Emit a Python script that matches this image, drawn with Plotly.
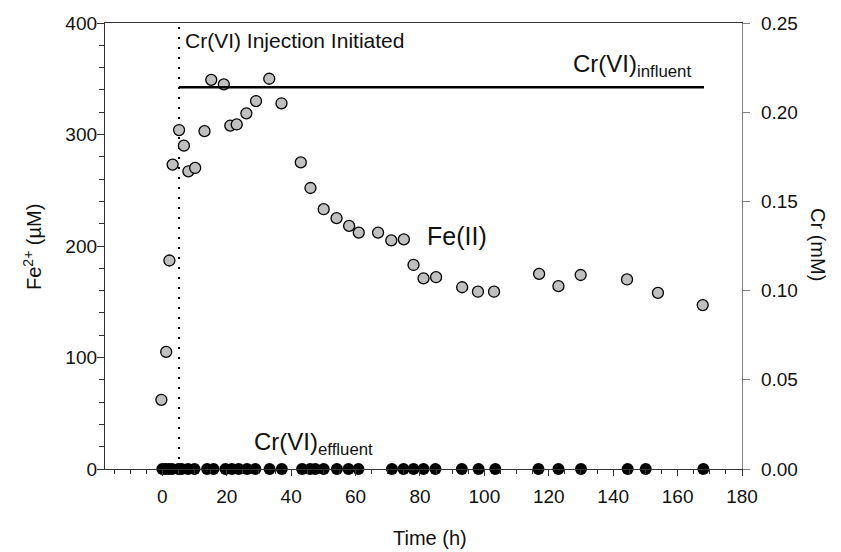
import plotly.graph_objects as go

# Fe(II) concentrations (µM) vs time (h)
fe_time = [-0.3, 1.2, 2.2, 3.2, 5.2, 6.7, 8.1, 10.2, 13.1, 15.2, 19.1, 21.1, 23.1, 26.1, 29.1,
           33.2, 37.0, 43.0, 46.0, 50.1, 54.1, 58.0, 61.0, 67.0, 71.1, 75.0, 78.0, 81.1, 85.0,
           93.1, 98.0, 103.0, 117.0, 123.0, 129.9, 144.3, 153.9, 167.8]
fe_conc = [62, 105, 187, 273, 304, 290, 267, 270, 303, 349, 345, 308, 309, 319, 330,
           350, 328, 275, 252, 233, 225, 218, 212, 212, 205, 206, 183, 171, 172,
           163, 159, 159, 175, 164, 174, 170, 158, 147]

# Cr(VI) effluent (mM)
eff_time = [0, 1, 2, 3, 5, 6, 8, 10, 13.9, 15.9, 19.6, 21.6, 23.7, 26.3, 28.9, 33.3, 37.1,
            43.4, 45.9, 47.5, 50.1, 54.2, 57.8, 60.9, 71.3, 74.9, 78.0, 81.1, 84.8,
            93.0, 98.2, 103.4, 116.8, 123.0, 130.0, 144.5, 150.1, 168.0]
eff_conc = [0.0] * len(eff_time)

# Cr(VI) influent (mM)
inf_time = [5.2, 168.2]
inf_conc = [0.214, 0.214]

# Injection start
inj_time = [5.2, 5.2]
inj_span = [0, 400]

FONT = "Arial, Liberation Sans, sans-serif"

fig = go.Figure()

fig.add_trace(go.Scatter(x=inj_time, y=inj_span, mode="lines", yaxis="y",
                         line=dict(color="black", width=2, dash="2px,8px"),
                         showlegend=False, hoverinfo="skip"))
fig.add_trace(go.Scatter(x=inf_time, y=inf_conc, mode="lines", yaxis="y2",
                         line=dict(color="black", width=2.5), showlegend=False))
fig.add_trace(go.Scatter(x=fe_time, y=fe_conc, mode="markers", yaxis="y",
                         marker=dict(size=11, color="#c0c0c0", line=dict(color="black", width=1.3)),
                         showlegend=False, cliponaxis=False))
fig.add_trace(go.Scatter(x=eff_time, y=eff_conc, mode="markers", yaxis="y2",
                         marker=dict(size=12, color="black", line=dict(color="black", width=0)),
                         showlegend=False, cliponaxis=False))

fig.update_layout(
    width=841, height=552,
    margin=dict(l=105, r=99, t=23, b=83),
    paper_bgcolor="white", plot_bgcolor="white",
    font=dict(family=FONT, size=19, color="#111"),
    xaxis=dict(range=[-17.8, 180], tickmode="array", tickvals=list(range(0, 181, 20)),
               showgrid=False, zeroline=False, showline=True, linecolor="#333", linewidth=1.3,
               mirror=True, ticks="outside", ticklen=6, tickcolor="#333", tickwidth=1.3,
               ticklabelstandoff=4,
               minor=dict(tickmode="array", tickvals=[v for v in range(-15, 180, 5) if v % 20 != 0],
                          ticks="outside", ticklen=4, tickcolor="#333", tickwidth=1.2)),
    yaxis=dict(range=[0, 400], tickmode="array", tickvals=[0, 100, 200, 300, 400],
               showgrid=False, zeroline=False, showline=True, linecolor="#333", linewidth=1.3,
               ticks="outside", ticklen=7, tickcolor="#333", tickwidth=1.3,
               ticklabelstandoff=-4,
               minor=dict(tickmode="array", tickvals=[v for v in range(20, 400, 20) if v % 100 != 0],
                          ticks="outside", ticklen=5, tickcolor="#333", tickwidth=1.2)),
    yaxis2=dict(range=[0, 0.25], overlaying="y", side="right",
                tickmode="array", tickvals=[0, 0.05, 0.10, 0.15, 0.20, 0.25],
                ticktext=["0.00", "0.05", "0.10", "0.15", "0.20", "0.25"],
                showgrid=False, zeroline=False, showline=True, linecolor="#808080", linewidth=1.3,
                ticks="outside", ticklen=7, tickcolor="#808080", tickwidth=1.3,
                ticklabelstandoff=7),
)

ann = [
    dict(text="Time (h)", x=430, y=538, size=20, xanchor="center", angle=0),
    dict(text="Fe<sup>2+</sup> (µM)", x=32, y=247, size=20, xanchor="center", angle=-90),
    dict(text="Cr (mM)", x=818, y=245, size=20, xanchor="center", angle=90),
    dict(text="Cr(VI) Injection Initiated", x=183, y=40, size=21, xanchor="left", angle=0),
    dict(text="Cr(VI)<sub>influent</sub>", x=571, y=66, size=24, xanchor="left", angle=0),
    dict(text="Cr(VI)<sub>effluent</sub>", x=252, y=443, size=24, xanchor="left", angle=0),
    dict(text="Fe(II)", x=425, y=236, size=25, xanchor="left", angle=0),
]
for a in ann:
    fig.add_annotation(text=a["text"], xref="paper", yref="paper",
                       x=(a["x"] - 105) / (841 - 105 - 99), y=1 - (a["y"] - 23) / (552 - 23 - 83),
                       xanchor=a["xanchor"], yanchor="middle", showarrow=False,
                       textangle=a["angle"], font=dict(family=FONT, size=a["size"], color="#111"))

fig.write_html("out.html", config={"displayModeBar": False},
               post_script="document.body.style.margin='0';")
